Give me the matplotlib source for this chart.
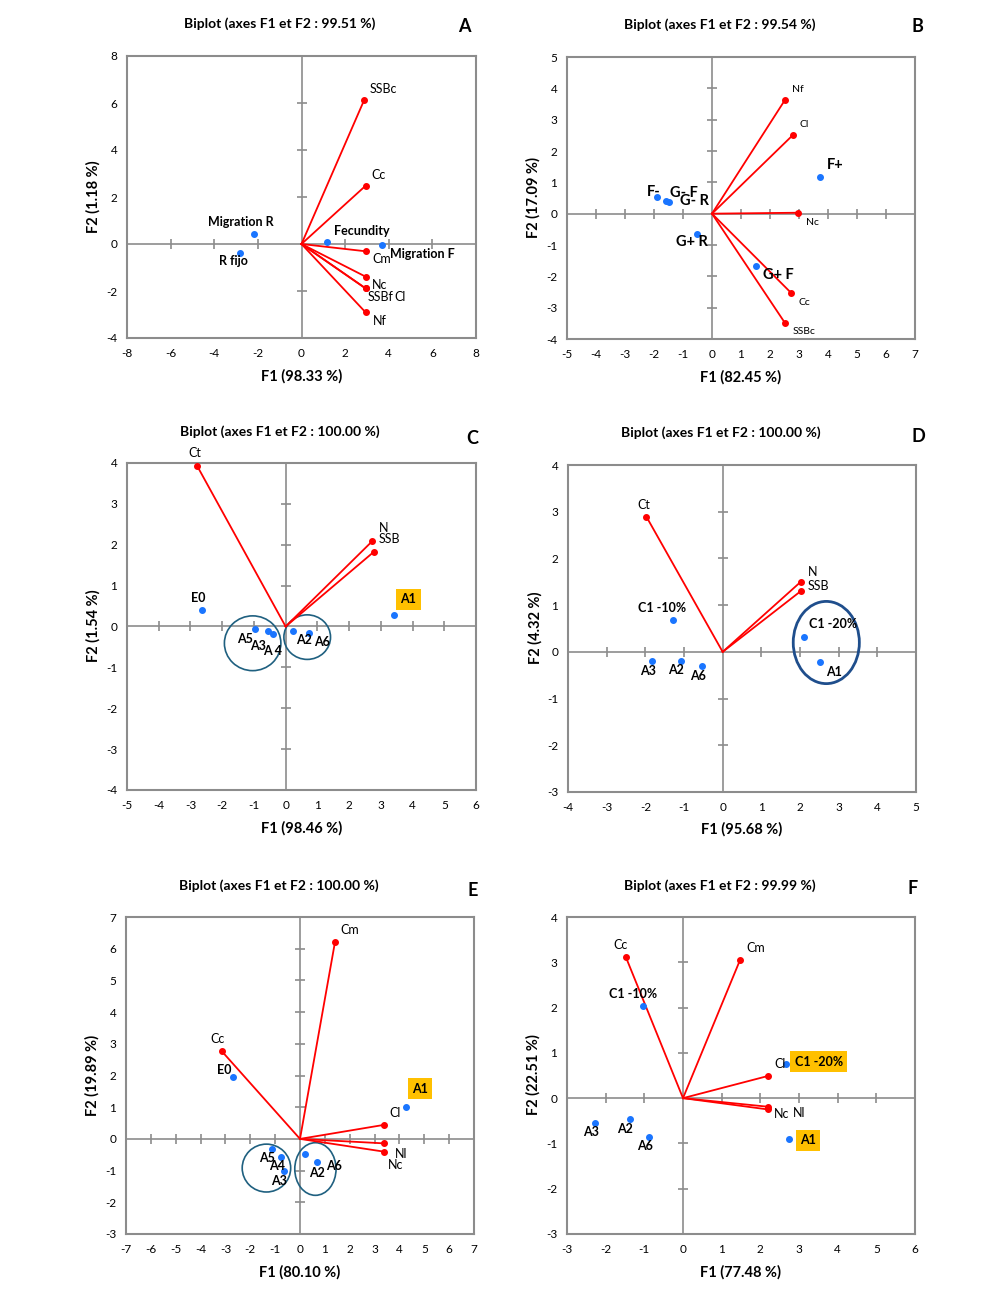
import numpy as np
import matplotlib.pyplot as plt
from matplotlib.patches import Ellipse

plt.rcParams['font.family'] = ['Lato', 'DejaVu Sans']
plt.rcParams['axes.unicode_minus'] = False

# ---------------- data ----------------
# panel A
a_var = ['SSBc', 'Cc', 'Cm', 'Nc', 'SSBf', 'Cl', 'Nf']
a_var_x = [2.88, 2.94, 2.94, 2.94, 2.94, 2.94, 2.94]
a_var_y = [6.14, 2.48, -0.31, -1.39, -1.89, -1.89, -2.91]
a_obs = ['Migration R', 'R fijo', 'Fecundity', 'Migration F']
a_obs_x = [-2.16, -2.80, 1.18, 3.68]
a_obs_y = [0.41, -0.38, 0.09, -0.04]

# panel B
b_var = ['Nf', 'Cl', 'Nc', 'Cc', 'SSBc']
b_var_x = [2.51, 2.79, 2.97, 2.74, 2.51]
b_var_y = [3.62, 2.51, 0.03, -2.54, -3.48]
b_obs = ['F-', 'G- F', 'G- R', 'F+', 'G+ R', 'G+ F']
b_obs_x = [-1.89, -1.58, -1.47, 3.74, -0.52, 1.52]
b_obs_y = [0.53, 0.42, 0.37, 1.17, -0.65, -1.67]

# panel C
c_var = ['Ct', 'N', 'SSB']
c_var_x = [-2.79, 2.72, 2.77]
c_var_y = [3.93, 2.08, 1.82]
c_obs = ['E0', 'A1', 'A5', 'A3', 'A 4', 'A2', 'A6']
c_obs_x = [-2.64, 3.43, -0.95, -0.57, -0.40, 0.22, 0.73]
c_obs_y = [0.40, 0.27, -0.06, -0.11, -0.19, -0.11, -0.15]

# panel D
d_var = ['Ct', 'N', 'SSB']
d_var_x = [-1.97, 2.02, 2.02]
d_var_y = [2.89, 1.50, 1.30]
d_obs = ['C1 -10%', 'A3', 'A2', 'A6', 'C1 -20%', 'A1']
d_obs_x = [-1.29, -1.84, -1.09, -0.54, 2.11, 2.53]
d_obs_y = [0.68, -0.19, -0.19, -0.30, 0.32, -0.22]

# panel E
e_var = ['Cm', 'Cc', 'Cl', 'Nl', 'Nc']
e_var_x = [1.41, -3.15, 3.36, 3.36, 3.36]
e_var_y = [6.22, 2.77, 0.44, -0.14, -0.40]
e_obs = ['E0', 'A1', 'A5', 'A4', 'A3', 'A2', 'A6']
e_obs_x = [-2.68, 4.27, -1.14, -0.76, -0.66, 0.19, 0.67]
e_obs_y = [1.94, 1.02, -0.31, -0.56, -1.02, -0.48, -0.73]

# panel F
f_var = ['Cc', 'Cm', 'Cl', 'Nc', 'Nl']
f_var_x = [-1.48, 1.48, 2.20, 2.20, 2.20]
f_var_y = [3.12, 3.06, 0.49, -0.19, -0.25]
f_obs = ['C1 -10%', 'C1 -20%', 'A3', 'A2', 'A6', 'A1']
f_obs_x = [-1.04, 2.66, -2.27, -1.38, -0.87, 2.74]
f_obs_y = [2.04, 0.76, -0.55, -0.46, -0.85, -0.91]

W, H = 998, 1300
fig = plt.figure(figsize=(W / 100, H / 100), dpi=100)

GRAY = '#8c8c8c'
RED = '#ff0000'
BLUE = '#1a75ff'
BOX = '#ffc000'


def px(x, y):
    return x / W, 1 - y / H


def biplot(rect, xlim, ylim, xstep, ystep,
           var, vx, vy, var_off, obs, ox, oy, obs_off,
           var_fs=9, obs_fs=9, boxed=()):
    l, r, t, b = rect
    ax = fig.add_axes([l / W, 1 - b / H, (r - l) / W, (b - t) / H])
    ax.set_xlim(xlim)
    ax.set_ylim(ylim)
    for s in ax.spines.values():
        s.set_color(GRAY)
        s.set_linewidth(1.5)
    ax.set_xticks(np.arange(xlim[0], xlim[1] + 0.1, xstep))
    ax.set_yticks(np.arange(ylim[0], ylim[1] + 0.1, ystep))
    ax.tick_params(length=0, labelsize=8.5, pad=7)
    ax.axhline(0, color=GRAY, lw=1.2, zorder=1)
    ax.axvline(0, color=GRAY, lw=1.2, zorder=1)
    # small tick marks on the centre lines
    xt = [v for v in ax.get_xticks() if v not in (0, xlim[0], xlim[1])]
    yt = [v for v in ax.get_yticks() if v not in (0, ylim[0], ylim[1])]
    ax.plot(xt, np.zeros(len(xt)), ls='none', marker='|', ms=7, mew=1.2, color=GRAY, zorder=1)
    ax.plot(np.zeros(len(yt)), yt, ls='none', marker='_', ms=7, mew=1.2, color=GRAY, zorder=1)

    for name, x, y, off in zip(var, vx, vy, var_off):
        ax.plot([0, x], [0, y], color=RED, lw=1.3, zorder=3)
        ax.plot(x, y, 'o', color=RED, ms=4, zorder=4)
        ax.annotate(name, (x, y), xytext=off, textcoords='offset pixels',
                    ha='center', va='center', fontsize=var_fs, zorder=5)
    for name, x, y, off in zip(obs, ox, oy, obs_off):
        ax.plot(x, y, 'o', color=BLUE, ms=4, zorder=4)
        kw = {}
        if name in boxed:
            kw['bbox'] = dict(boxstyle='square,pad=0.35', fc=BOX, ec='none')
        ax.annotate(name, (x, y), xytext=off, textcoords='offset pixels',
                    ha='center', va='center', fontsize=obs_fs, fontweight='bold',
                    zorder=5, **kw)
    return ax


def heads(title, letter, label_x, label_y, tpos, lpos, xpos, ypos):
    fig.text(*px(*tpos), title, ha='center', va='center', fontsize=10, fontweight='bold')
    fig.text(*px(*lpos), letter, ha='center', va='center', fontsize=13, fontweight='bold')
    fig.text(*px(*xpos), label_x, ha='center', va='center', fontsize=10.5, fontweight='bold')
    fig.text(*px(*ypos), label_y, ha='center', va='center', fontsize=10.5,
             fontweight='bold', rotation=90)


# ---------------- A ----------------
biplot((127, 476, 56, 338), (-8, 8), (-4, 8), 2, 2,
       a_var, a_var_x, a_var_y,
       [(19, 11), (13, 11), (16, -8), (14, -8), (15, -9), (34, -9), (14, -9)],
       a_obs, a_obs_x, a_obs_y,
       [(-14, 12), (-7, -8), (35, 11), (41, -9)])
heads('Biplot (axes F1 et F2 : 99.51 %)', 'A', 'F1 (98.33 %)', 'F2 (1.18 %)',
      (280, 24), (464, 26), (302, 376), (93, 197))

# ---------------- B ----------------
biplot((567, 915, 57, 339), (-5, 7), (-4, 5), 1, 1,
       b_var, b_var_x, b_var_y,
       [(13, 11), (11, 11), (14, -10), (13, -9), (19, -9)],
       b_obs, b_obs_x, b_obs_y,
       [(-3, 5), (18, 8), (25, 1), (15, 12), (-5, -8), (22, -9)],
       var_fs=7.5, obs_fs=10.5)
heads('Biplot (axes F1 et F2 : 99.54 %)', 'B', 'F1 (82.45 %)', 'F2 (17.09 %)',
      (720, 25), (917, 27), (741, 377), (533, 198))

# ---------------- C ----------------
axc = biplot((127, 476, 463, 790), (-5, 6), (-4, 4), 1, 1,
             c_var, c_var_x, c_var_y,
             [(-2, 13), (12, 13), (16, 13)],
             c_obs, c_obs_x, c_obs_y,
             [(-4, 12), (14, 16), (-10, -10), (-10, -15), (0, -17), (11, -9), (13, -9)],
             boxed=('A1',))
axc.add_patch(Ellipse((-1.04, -0.41), 1.78, 1.34, fill=False, ec='#1f6080', lw=1.2, zorder=2))
axc.add_patch(Ellipse((0.68, -0.26), 1.47, 1.09, fill=False, ec='#1f6080', lw=1.2, zorder=2))
heads('Biplot (axes F1 et F2 : 100.00 %)', 'C', 'F1 (98.46 %)', 'F2 (1.54 %)',
      (280, 432), (472, 438), (302, 828), (93, 626))

# ---------------- D ----------------
axd = biplot((568, 916, 465, 792), (-4, 5), (-3, 4), 1, 1,
             d_var, d_var_x, d_var_y,
             [(-3, 12), (12, 10), (18, 5)],
             d_obs, d_obs_x, d_obs_y,
             [(-11, 12), (-4, -10), (-5, -9), (-4, -10), (29, 13), (14, -10)])
axd.add_patch(Ellipse((2.68, 0.20), 1.71, 1.76, fill=False, ec='#1f4e8c', lw=2, zorder=2))
heads('Biplot (axes F1 et F2 : 100.00 %)', 'D', 'F1 (95.68 %)', 'F2 (4.32 %)',
      (721, 433), (918, 437), (742, 829), (535, 628))

# ---------------- E ----------------
axe = biplot((126, 474, 917, 1234), (-7, 7), (-3, 7), 1, 1,
             e_var, e_var_x, e_var_y,
             [(15, 12), (-4, 12), (12, 12), (18, -11), (12, -13)],
             e_obs, e_obs_x, e_obs_y,
             [(-9, 7), (14, 18), (-5, -9), (-4, -9), (-5, -10), (12, -19), (17, -4)],
             boxed=('A1',))
axe.add_patch(Ellipse((-1.35, -0.92), 1.95, 1.51, fill=False, ec='#1f6080', lw=1.2, zorder=2))
axe.add_patch(Ellipse((0.62, -0.95), 1.66, 1.66, fill=False, ec='#1f6080', lw=1.2, zorder=2))
heads('Biplot (axes F1 et F2 : 100.00 %)', 'E', 'F1 (80.10 %)', 'F2 (19.89 %)',
      (279, 886), (473, 890), (300, 1272), (92, 1075))

# ---------------- F ----------------
biplot((567, 915, 917, 1234), (-3, 6), (-3, 4), 1, 1,
       f_var, f_var_x, f_var_y,
       [(-5, 12), (16, 12), (12, 12), (14, -7), (31, -4)],
       f_obs, f_obs_x, f_obs_y,
       [(-10, 12), (33, 2), (-4, -9), (-5, -10), (-4, -9), (19, -1)],
       boxed=('C1 -20%', 'A1'))
heads('Biplot (axes F1 et F2 : 99.99 %)', 'F', 'F1 (77.48 %)', 'F2 (22.51 %)',
      (720, 886), (913, 888), (741, 1272), (533, 1075))

fig.savefig('out.png', dpi=100)
